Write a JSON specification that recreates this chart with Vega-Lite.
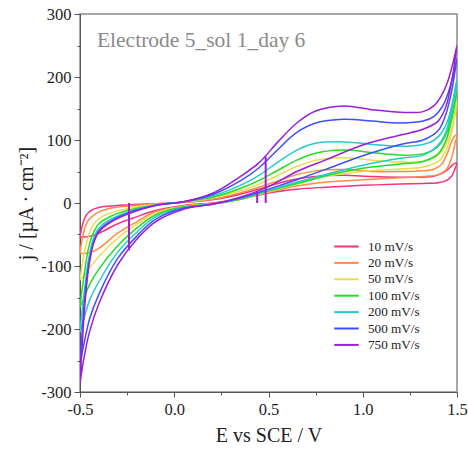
{
"$schema":"https://vega.github.io/schema/vega-lite/v6.json",
"width":377,"height":378,
"autosize":{"type":"none"},
"padding":{"left":80,"top":14,"right":11,"bottom":62},
"background":"white",
"config":{"view":{"stroke":"#8c8c8c","strokeWidth":1.5},"font":"Liberation Serif",
"locale":{"number":{"decimal":".","thousands":",","grouping":[3],"currency":["$",""],"minus":"-"}}},
"datasets":{"cv":[
{"r":"10 mV/s","o":1,"E":-0.5,"j":-54},{"r":"10 mV/s","o":2,"E":-0.49,"j":-38},{"r":"10 mV/s","o":3,"E":-0.475,"j":-24},{"r":"10 mV/s","o":4,"E":-0.455,"j":-15},{"r":"10 mV/s","o":5,"E":-0.43,"j":-10},{"r":"10 mV/s","o":6,"E":-0.4,"j":-7},{"r":"10 mV/s","o":7,"E":-0.35,"j":-5},{"r":"10 mV/s","o":8,"E":-0.25,"j":-3},{"r":"10 mV/s","o":9,"E":-0.1,"j":-1},{"r":"10 mV/s","o":10,"E":0.05,"j":1},{"r":"10 mV/s","o":11,"E":0.2,"j":5},{"r":"10 mV/s","o":12,"E":0.35,"j":14},{"r":"10 mV/s","o":13,"E":0.45,"j":22},{"r":"10 mV/s","o":14,"E":0.55,"j":31},{"r":"10 mV/s","o":15,"E":0.65,"j":38},{"r":"10 mV/s","o":16,"E":0.75,"j":42},{"r":"10 mV/s","o":17,"E":0.9,"j":44},{"r":"10 mV/s","o":18,"E":1.05,"j":42},{"r":"10 mV/s","o":19,"E":1.2,"j":41},{"r":"10 mV/s","o":20,"E":1.32,"j":41},{"r":"10 mV/s","o":21,"E":1.38,"j":43},{"r":"10 mV/s","o":22,"E":1.42,"j":47},{"r":"10 mV/s","o":23,"E":1.45,"j":53},{"r":"10 mV/s","o":24,"E":1.475,"j":60},{"r":"10 mV/s","o":25,"E":1.49,"j":63},{"r":"10 mV/s","o":26,"E":1.5,"j":64},
{"r":"10 mV/s","o":27,"E":1.49,"j":55},{"r":"10 mV/s","o":28,"E":1.47,"j":42},{"r":"10 mV/s","o":29,"E":1.44,"j":35},{"r":"10 mV/s","o":30,"E":1.4,"j":32},{"r":"10 mV/s","o":31,"E":1.32,"j":31},{"r":"10 mV/s","o":32,"E":1.2,"j":30},{"r":"10 mV/s","o":33,"E":1.0,"j":28},{"r":"10 mV/s","o":34,"E":0.8,"j":25},{"r":"10 mV/s","o":35,"E":0.65,"j":22},{"r":"10 mV/s","o":36,"E":0.5,"j":16},{"r":"10 mV/s","o":37,"E":0.35,"j":6},{"r":"10 mV/s","o":38,"E":0.2,"j":0},{"r":"10 mV/s","o":39,"E":0.05,"j":-4},{"r":"10 mV/s","o":40,"E":-0.1,"j":-12},{"r":"10 mV/s","o":41,"E":-0.2,"j":-22},{"r":"10 mV/s","o":42,"E":-0.3,"j":-33},{"r":"10 mV/s","o":43,"E":-0.4,"j":-48},{"r":"10 mV/s","o":44,"E":-0.45,"j":-53},{"r":"10 mV/s","o":45,"E":-0.48,"j":-54},{"r":"10 mV/s","o":46,"E":-0.5,"j":-54},

{"r":"20 mV/s","o":1,"E":-0.5,"j":-80},{"r":"20 mV/s","o":2,"E":-0.49,"j":-60},{"r":"20 mV/s","o":3,"E":-0.475,"j":-40},{"r":"20 mV/s","o":4,"E":-0.455,"j":-27},{"r":"20 mV/s","o":5,"E":-0.43,"j":-20},{"r":"20 mV/s","o":6,"E":-0.4,"j":-14},{"r":"20 mV/s","o":7,"E":-0.35,"j":-9},{"r":"20 mV/s","o":8,"E":-0.25,"j":-5},{"r":"20 mV/s","o":9,"E":-0.1,"j":-2},{"r":"20 mV/s","o":10,"E":0.05,"j":1},{"r":"20 mV/s","o":11,"E":0.2,"j":6},{"r":"20 mV/s","o":12,"E":0.35,"j":16},{"r":"20 mV/s","o":13,"E":0.45,"j":25},{"r":"20 mV/s","o":14,"E":0.55,"j":35},{"r":"20 mV/s","o":15,"E":0.65,"j":45},{"r":"20 mV/s","o":16,"E":0.75,"j":51},{"r":"20 mV/s","o":17,"E":0.9,"j":53},{"r":"20 mV/s","o":18,"E":1.05,"j":50},{"r":"20 mV/s","o":19,"E":1.2,"j":50},{"r":"20 mV/s","o":20,"E":1.32,"j":51},{"r":"20 mV/s","o":21,"E":1.38,"j":54},{"r":"20 mV/s","o":22,"E":1.42,"j":62},{"r":"20 mV/s","o":23,"E":1.45,"j":80},{"r":"20 mV/s","o":24,"E":1.475,"j":100},{"r":"20 mV/s","o":25,"E":1.49,"j":107},{"r":"20 mV/s","o":26,"E":1.5,"j":108},
{"r":"20 mV/s","o":27,"E":1.49,"j":95},{"r":"20 mV/s","o":28,"E":1.47,"j":70},{"r":"20 mV/s","o":29,"E":1.44,"j":52},{"r":"20 mV/s","o":30,"E":1.4,"j":45},{"r":"20 mV/s","o":31,"E":1.32,"j":42},{"r":"20 mV/s","o":32,"E":1.2,"j":40},{"r":"20 mV/s","o":33,"E":1.0,"j":37},{"r":"20 mV/s","o":34,"E":0.8,"j":33},{"r":"20 mV/s","o":35,"E":0.65,"j":27},{"r":"20 mV/s","o":36,"E":0.5,"j":17},{"r":"20 mV/s","o":37,"E":0.35,"j":6},{"r":"20 mV/s","o":38,"E":0.2,"j":-1},{"r":"20 mV/s","o":39,"E":0.05,"j":-5},{"r":"20 mV/s","o":40,"E":-0.1,"j":-14},{"r":"20 mV/s","o":41,"E":-0.2,"j":-30},{"r":"20 mV/s","o":42,"E":-0.3,"j":-48},{"r":"20 mV/s","o":43,"E":-0.4,"j":-72},{"r":"20 mV/s","o":44,"E":-0.45,"j":-79},{"r":"20 mV/s","o":45,"E":-0.48,"j":-80},{"r":"20 mV/s","o":46,"E":-0.5,"j":-80},

{"r":"50 mV/s","o":1,"E":-0.5,"j":-122},{"r":"50 mV/s","o":2,"E":-0.49,"j":-100},{"r":"50 mV/s","o":3,"E":-0.475,"j":-75},{"r":"50 mV/s","o":4,"E":-0.455,"j":-52},{"r":"50 mV/s","o":5,"E":-0.43,"j":-35},{"r":"50 mV/s","o":6,"E":-0.4,"j":-25},{"r":"50 mV/s","o":7,"E":-0.35,"j":-17},{"r":"50 mV/s","o":8,"E":-0.25,"j":-9},{"r":"50 mV/s","o":9,"E":-0.1,"j":-2},{"r":"50 mV/s","o":10,"E":0.05,"j":1},{"r":"50 mV/s","o":11,"E":0.2,"j":8},{"r":"50 mV/s","o":12,"E":0.35,"j":19},{"r":"50 mV/s","o":13,"E":0.45,"j":30},{"r":"50 mV/s","o":14,"E":0.55,"j":44},{"r":"50 mV/s","o":15,"E":0.65,"j":58},{"r":"50 mV/s","o":16,"E":0.75,"j":68},{"r":"50 mV/s","o":17,"E":0.9,"j":72},{"r":"50 mV/s","o":18,"E":1.05,"j":68},{"r":"50 mV/s","o":19,"E":1.2,"j":65},{"r":"50 mV/s","o":20,"E":1.32,"j":66},{"r":"50 mV/s","o":21,"E":1.38,"j":72},{"r":"50 mV/s","o":22,"E":1.42,"j":82},{"r":"50 mV/s","o":23,"E":1.45,"j":98},{"r":"50 mV/s","o":24,"E":1.475,"j":122},{"r":"50 mV/s","o":25,"E":1.49,"j":148},{"r":"50 mV/s","o":26,"E":1.5,"j":165},
{"r":"50 mV/s","o":27,"E":1.49,"j":140},{"r":"50 mV/s","o":28,"E":1.47,"j":110},{"r":"50 mV/s","o":29,"E":1.44,"j":82},{"r":"50 mV/s","o":30,"E":1.4,"j":66},{"r":"50 mV/s","o":31,"E":1.32,"j":57},{"r":"50 mV/s","o":32,"E":1.2,"j":54},{"r":"50 mV/s","o":33,"E":1.0,"j":50},{"r":"50 mV/s","o":34,"E":0.8,"j":42},{"r":"50 mV/s","o":35,"E":0.65,"j":30},{"r":"50 mV/s","o":36,"E":0.5,"j":18},{"r":"50 mV/s","o":37,"E":0.35,"j":6},{"r":"50 mV/s","o":38,"E":0.2,"j":-1},{"r":"50 mV/s","o":39,"E":0.05,"j":-5},{"r":"50 mV/s","o":40,"E":-0.1,"j":-16},{"r":"50 mV/s","o":41,"E":-0.2,"j":-34},{"r":"50 mV/s","o":42,"E":-0.3,"j":-56},{"r":"50 mV/s","o":43,"E":-0.4,"j":-85},{"r":"50 mV/s","o":44,"E":-0.45,"j":-103},{"r":"50 mV/s","o":45,"E":-0.48,"j":-116},{"r":"50 mV/s","o":46,"E":-0.5,"j":-122},

{"r":"100 mV/s","o":1,"E":-0.5,"j":-165},{"r":"100 mV/s","o":2,"E":-0.49,"j":-140},{"r":"100 mV/s","o":3,"E":-0.475,"j":-108},{"r":"100 mV/s","o":4,"E":-0.455,"j":-72},{"r":"100 mV/s","o":5,"E":-0.43,"j":-48},{"r":"100 mV/s","o":6,"E":-0.4,"j":-33},{"r":"100 mV/s","o":7,"E":-0.35,"j":-23},{"r":"100 mV/s","o":8,"E":-0.25,"j":-12},{"r":"100 mV/s","o":9,"E":-0.1,"j":-3},{"r":"100 mV/s","o":10,"E":0.05,"j":2},{"r":"100 mV/s","o":11,"E":0.2,"j":9},{"r":"100 mV/s","o":12,"E":0.35,"j":23},{"r":"100 mV/s","o":13,"E":0.45,"j":36},{"r":"100 mV/s","o":14,"E":0.55,"j":52},{"r":"100 mV/s","o":15,"E":0.65,"j":68},{"r":"100 mV/s","o":16,"E":0.75,"j":79},{"r":"100 mV/s","o":17,"E":0.9,"j":84},{"r":"100 mV/s","o":18,"E":1.05,"j":80},{"r":"100 mV/s","o":19,"E":1.2,"j":76},{"r":"100 mV/s","o":20,"E":1.32,"j":78},{"r":"100 mV/s","o":21,"E":1.38,"j":85},{"r":"100 mV/s","o":22,"E":1.42,"j":97},{"r":"100 mV/s","o":23,"E":1.45,"j":115},{"r":"100 mV/s","o":24,"E":1.475,"j":142},{"r":"100 mV/s","o":25,"E":1.49,"j":165},{"r":"100 mV/s","o":26,"E":1.5,"j":180},
{"r":"100 mV/s","o":27,"E":1.49,"j":160},{"r":"100 mV/s","o":28,"E":1.47,"j":130},{"r":"100 mV/s","o":29,"E":1.44,"j":98},{"r":"100 mV/s","o":30,"E":1.4,"j":78},{"r":"100 mV/s","o":31,"E":1.32,"j":66},{"r":"100 mV/s","o":32,"E":1.2,"j":62},{"r":"100 mV/s","o":33,"E":1.0,"j":55},{"r":"100 mV/s","o":34,"E":0.8,"j":43},{"r":"100 mV/s","o":35,"E":0.65,"j":31},{"r":"100 mV/s","o":36,"E":0.5,"j":19},{"r":"100 mV/s","o":37,"E":0.35,"j":6},{"r":"100 mV/s","o":38,"E":0.2,"j":-2},{"r":"100 mV/s","o":39,"E":0.05,"j":-6},{"r":"100 mV/s","o":40,"E":-0.1,"j":-19},{"r":"100 mV/s","o":41,"E":-0.2,"j":-40},{"r":"100 mV/s","o":42,"E":-0.3,"j":-68},{"r":"100 mV/s","o":43,"E":-0.4,"j":-105},{"r":"100 mV/s","o":44,"E":-0.45,"j":-130},{"r":"100 mV/s","o":45,"E":-0.48,"j":-152},{"r":"100 mV/s","o":46,"E":-0.5,"j":-165},

{"r":"200 mV/s","o":1,"E":-0.5,"j":-205},{"r":"200 mV/s","o":2,"E":-0.49,"j":-175},{"r":"200 mV/s","o":3,"E":-0.475,"j":-135},{"r":"200 mV/s","o":4,"E":-0.455,"j":-90},{"r":"200 mV/s","o":5,"E":-0.43,"j":-58},{"r":"200 mV/s","o":6,"E":-0.4,"j":-40},{"r":"200 mV/s","o":7,"E":-0.35,"j":-28},{"r":"200 mV/s","o":8,"E":-0.25,"j":-15},{"r":"200 mV/s","o":9,"E":-0.1,"j":-3},{"r":"200 mV/s","o":10,"E":0.05,"j":2},{"r":"200 mV/s","o":11,"E":0.2,"j":11},{"r":"200 mV/s","o":12,"E":0.35,"j":28},{"r":"200 mV/s","o":13,"E":0.45,"j":44},{"r":"200 mV/s","o":14,"E":0.55,"j":65},{"r":"200 mV/s","o":15,"E":0.65,"j":84},{"r":"200 mV/s","o":16,"E":0.75,"j":95},{"r":"200 mV/s","o":17,"E":0.9,"j":97},{"r":"200 mV/s","o":18,"E":1.05,"j":93},{"r":"200 mV/s","o":19,"E":1.2,"j":90},{"r":"200 mV/s","o":20,"E":1.32,"j":93},{"r":"200 mV/s","o":21,"E":1.38,"j":100},{"r":"200 mV/s","o":22,"E":1.42,"j":112},{"r":"200 mV/s","o":23,"E":1.45,"j":130},{"r":"200 mV/s","o":24,"E":1.475,"j":158},{"r":"200 mV/s","o":25,"E":1.49,"j":182},{"r":"200 mV/s","o":26,"E":1.5,"j":197},
{"r":"200 mV/s","o":27,"E":1.49,"j":175},{"r":"200 mV/s","o":28,"E":1.47,"j":145},{"r":"200 mV/s","o":29,"E":1.44,"j":112},{"r":"200 mV/s","o":30,"E":1.4,"j":92},{"r":"200 mV/s","o":31,"E":1.32,"j":76},{"r":"200 mV/s","o":32,"E":1.2,"j":71},{"r":"200 mV/s","o":33,"E":1.0,"j":60},{"r":"200 mV/s","o":34,"E":0.8,"j":45},{"r":"200 mV/s","o":35,"E":0.65,"j":33},{"r":"200 mV/s","o":36,"E":0.5,"j":20},{"r":"200 mV/s","o":37,"E":0.35,"j":7},{"r":"200 mV/s","o":38,"E":0.2,"j":-2},{"r":"200 mV/s","o":39,"E":0.05,"j":-7},{"r":"200 mV/s","o":40,"E":-0.1,"j":-22},{"r":"200 mV/s","o":41,"E":-0.2,"j":-47},{"r":"200 mV/s","o":42,"E":-0.3,"j":-78},{"r":"200 mV/s","o":43,"E":-0.4,"j":-125},{"r":"200 mV/s","o":44,"E":-0.45,"j":-155},{"r":"200 mV/s","o":45,"E":-0.48,"j":-185},{"r":"200 mV/s","o":46,"E":-0.5,"j":-205},

{"r":"500 mV/s","o":1,"E":-0.5,"j":-255},{"r":"500 mV/s","o":2,"E":-0.49,"j":-210},{"r":"500 mV/s","o":3,"E":-0.475,"j":-150},{"r":"500 mV/s","o":4,"E":-0.455,"j":-100},{"r":"500 mV/s","o":5,"E":-0.43,"j":-64},{"r":"500 mV/s","o":6,"E":-0.4,"j":-44},{"r":"500 mV/s","o":7,"E":-0.35,"j":-31},{"r":"500 mV/s","o":8,"E":-0.25,"j":-16},{"r":"500 mV/s","o":9,"E":-0.1,"j":-4},{"r":"500 mV/s","o":10,"E":0.05,"j":2},{"r":"500 mV/s","o":11,"E":0.2,"j":13},{"r":"500 mV/s","o":12,"E":0.35,"j":35},{"r":"500 mV/s","o":13,"E":0.45,"j":56},{"r":"500 mV/s","o":14,"E":0.55,"j":85},{"r":"500 mV/s","o":15,"E":0.65,"j":112},{"r":"500 mV/s","o":16,"E":0.75,"j":127},{"r":"500 mV/s","o":17,"E":0.9,"j":133},{"r":"500 mV/s","o":18,"E":1.05,"j":130},{"r":"500 mV/s","o":19,"E":1.2,"j":127},{"r":"500 mV/s","o":20,"E":1.32,"j":130},{"r":"500 mV/s","o":21,"E":1.38,"j":138},{"r":"500 mV/s","o":22,"E":1.42,"j":152},{"r":"500 mV/s","o":23,"E":1.45,"j":172},{"r":"500 mV/s","o":24,"E":1.475,"j":198},{"r":"500 mV/s","o":25,"E":1.49,"j":218},{"r":"500 mV/s","o":26,"E":1.5,"j":230},
{"r":"500 mV/s","o":27,"E":1.49,"j":210},{"r":"500 mV/s","o":28,"E":1.47,"j":175},{"r":"500 mV/s","o":29,"E":1.44,"j":140},{"r":"500 mV/s","o":30,"E":1.4,"j":115},{"r":"500 mV/s","o":31,"E":1.32,"j":100},{"r":"500 mV/s","o":32,"E":1.2,"j":93},{"r":"500 mV/s","o":33,"E":1.0,"j":75},{"r":"500 mV/s","o":34,"E":0.8,"j":53},{"r":"500 mV/s","o":35,"E":0.65,"j":37},{"r":"500 mV/s","o":36,"E":0.5,"j":22},{"r":"500 mV/s","o":37,"E":0.35,"j":8},{"r":"500 mV/s","o":38,"E":0.2,"j":-2},{"r":"500 mV/s","o":39,"E":0.05,"j":-8},{"r":"500 mV/s","o":40,"E":-0.1,"j":-26},{"r":"500 mV/s","o":41,"E":-0.2,"j":-53},{"r":"500 mV/s","o":42,"E":-0.3,"j":-88},{"r":"500 mV/s","o":43,"E":-0.4,"j":-145},{"r":"500 mV/s","o":44,"E":-0.45,"j":-185},{"r":"500 mV/s","o":45,"E":-0.48,"j":-225},{"r":"500 mV/s","o":46,"E":-0.5,"j":-255},

{"r":"750 mV/s","o":1,"E":-0.5,"j":-287},{"r":"750 mV/s","o":2,"E":-0.49,"j":-235},{"r":"750 mV/s","o":3,"E":-0.475,"j":-165},{"r":"750 mV/s","o":4,"E":-0.455,"j":-105},{"r":"750 mV/s","o":5,"E":-0.43,"j":-66},{"r":"750 mV/s","o":6,"E":-0.4,"j":-46},{"r":"750 mV/s","o":7,"E":-0.35,"j":-33},{"r":"750 mV/s","o":8,"E":-0.25,"j":-18},{"r":"750 mV/s","o":9,"E":-0.1,"j":-4},{"r":"750 mV/s","o":10,"E":0.05,"j":2},{"r":"750 mV/s","o":11,"E":0.2,"j":15},{"r":"750 mV/s","o":12,"E":0.35,"j":42},{"r":"750 mV/s","o":13,"E":0.45,"j":64},{"r":"750 mV/s","o":14,"E":0.55,"j":97},{"r":"750 mV/s","o":15,"E":0.65,"j":127},{"r":"750 mV/s","o":16,"E":0.75,"j":146},{"r":"750 mV/s","o":17,"E":0.9,"j":154},{"r":"750 mV/s","o":18,"E":1.05,"j":148},{"r":"750 mV/s","o":19,"E":1.2,"j":144},{"r":"750 mV/s","o":20,"E":1.32,"j":145},{"r":"750 mV/s","o":21,"E":1.38,"j":155},{"r":"750 mV/s","o":22,"E":1.42,"j":172},{"r":"750 mV/s","o":23,"E":1.45,"j":192},{"r":"750 mV/s","o":24,"E":1.475,"j":218},{"r":"750 mV/s","o":25,"E":1.49,"j":237},{"r":"750 mV/s","o":26,"E":1.5,"j":250},
{"r":"750 mV/s","o":27,"E":1.49,"j":228},{"r":"750 mV/s","o":28,"E":1.47,"j":190},{"r":"750 mV/s","o":29,"E":1.44,"j":152},{"r":"750 mV/s","o":30,"E":1.4,"j":130},{"r":"750 mV/s","o":31,"E":1.32,"j":117},{"r":"750 mV/s","o":32,"E":1.2,"j":108},{"r":"750 mV/s","o":33,"E":1.0,"j":92},{"r":"750 mV/s","o":34,"E":0.8,"j":68},{"r":"750 mV/s","o":35,"E":0.65,"j":50},{"r":"750 mV/s","o":36,"E":0.5,"j":26},{"r":"750 mV/s","o":37,"E":0.35,"j":9},{"r":"750 mV/s","o":38,"E":0.2,"j":-2},{"r":"750 mV/s","o":39,"E":0.05,"j":-10},{"r":"750 mV/s","o":40,"E":-0.1,"j":-30},{"r":"750 mV/s","o":41,"E":-0.2,"j":-58},{"r":"750 mV/s","o":42,"E":-0.3,"j":-98},{"r":"750 mV/s","o":43,"E":-0.4,"j":-160},{"r":"750 mV/s","o":44,"E":-0.45,"j":-205},{"r":"750 mV/s","o":45,"E":-0.48,"j":-248},{"r":"750 mV/s","o":46,"E":-0.5,"j":-287}
],
"marks":[
{"g":1,"E":-0.24,"j":0},{"g":1,"E":-0.24,"j":-75},
{"g":2,"E":0.44,"j":0},{"g":2,"E":0.44,"j":18},
{"g":3,"E":0.485,"j":0},{"g":3,"E":0.485,"j":74}
],
"label":[{"t":"Electrode 5_sol 1_day 6"}]},
"layer":[
{"data":{"name":"cv"},
 "mark":{"type":"line","strokeWidth":1.5,"interpolate":"catmull-rom","clip":true},
 "encoding":{
  "x":{"field":"E","type":"quantitative","scale":{"domain":[-0.5,1.5],"nice":false,"zero":false},
       "axis":{"orient":"bottom","values":[-0.5,0,0.5,1,1.5],"format":".1f","grid":false,"tickSize":5,"labelFontSize":16.5,"labelColor":"#222","labelPadding":4,"labelFlush":false,
               "domainColor":"#555","tickColor":"#555","title":"E vs SCE / V","titleFontSize":20,"titleFontWeight":"normal","titleColor":"#222","titlePadding":8}},
  "y":{"field":"j","type":"quantitative","scale":{"domain":[-300,300],"nice":false},
       "axis":{"orient":"left","values":[-300,-200,-100,0,100,200,300],"format":"d","grid":false,"tickSize":6,"labelFontSize":16.5,"labelColor":"#222","labelPadding":3,"labelFlush":false,
               "domainColor":"#555","tickColor":"#555","title":"j / [µA · cm⁻²]","titleFontSize":20,"titleFontWeight":"normal","titleColor":"#222","titlePadding":4}},
  "color":{"field":"r","type":"nominal",
    "scale":{"domain":["10 mV/s","20 mV/s","50 mV/s","100 mV/s","200 mV/s","500 mV/s","750 mV/s"],
             "range":["#f5317f","#ff8c42","#e9dc4f","#22dd22","#22cccc","#3f4fff","#9b1fd6"]},
    "legend":{"orient":"none","legendX":259,"legendY":225,"title":null,"symbolType":"M-2,0H2","symbolSize":150,"symbolStrokeWidth":2,
              "labelFont":"Liberation Serif","labelFontSize":13.2,"labelColor":"#222","labelOffset":14,"rowPadding":2.4,"padding":0}},
  "order":{"field":"o","type":"quantitative"}
 }},
{"data":{"name":"marks"},
 "mark":{"type":"line","strokeWidth":2,"color":"#9b1fd6"},
 "encoding":{
  "x":{"field":"E","type":"quantitative","axis":{"orient":"bottom","values":[-0.25,0.25,0.75,1.25],"labels":false,"domain":false,"grid":false,"tickSize":3,"tickColor":"#555","title":null}},
  "y":{"field":"j","type":"quantitative","axis":{"orient":"left","values":[-250,-150,-50,50,150,250],"labels":false,"domain":false,"grid":false,"tickSize":3,"tickColor":"#555","title":null}},
  "detail":{"field":"g","type":"nominal"}
 }},
{"data":{"name":"label"},
 "mark":{"type":"text","font":"Liberation Serif","fontSize":21.5,"color":"#8a8a8a","align":"left","baseline":"alphabetic"},
 "encoding":{
  "text":{"field":"t","type":"nominal"},
  "x":{"datum":-0.41,"type":"quantitative","axis":null},
  "y":{"datum":248,"type":"quantitative","axis":null}
 }}
],
"resolve":{"axis":{"x":"independent","y":"independent"}}
}
